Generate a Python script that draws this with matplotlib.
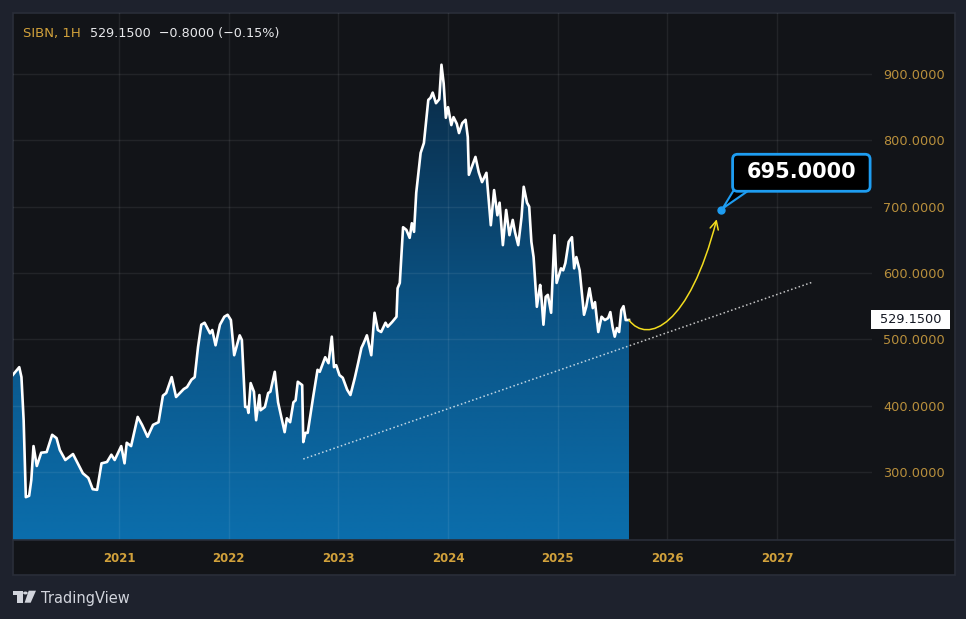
import numpy as np
import matplotlib
matplotlib.use("Agg")
import matplotlib.pyplot as plt
from matplotlib.patches import Polygon, Rectangle, Circle, FancyBboxPatch, FancyArrowPatch
from matplotlib.path import Path
from matplotlib.colors import LinearSegmentedColormap
from matplotlib.transforms import blended_transform_factory, IdentityTransform

# ---- data ----
dates = [2020.03, 2020.09, 2020.11, 2020.13, 2020.15, 2020.18, 2020.20, 2020.22, 2020.25, 2020.29,
         2020.34, 2020.39, 2020.43, 2020.46, 2020.51, 2020.58, 2020.67, 2020.72, 2020.76, 2020.80,
         2020.84, 2020.89, 2020.93, 2020.96, 2021.02, 2021.05, 2021.07, 2021.11, 2021.17, 2021.21,
         2021.26, 2021.31, 2021.36, 2021.40, 2021.43, 2021.48, 2021.52, 2021.59, 2021.62, 2021.66,
         2021.69, 2021.72, 2021.75, 2021.78, 2021.83, 2021.85, 2021.88, 2021.92, 2021.96, 2021.99,
         2022.02, 2022.05, 2022.10, 2022.12, 2022.15, 2022.17, 2022.18, 2022.20, 2022.23, 2022.25,
         2022.28, 2022.29, 2022.33, 2022.36, 2022.38, 2022.42, 2022.45, 2022.51, 2022.53, 2022.56,
         2022.59, 2022.61, 2022.63, 2022.67, 2022.68, 2022.70, 2022.72, 2022.77, 2022.81, 2022.83,
         2022.88, 2022.91, 2022.94, 2022.96, 2022.98, 2023.01, 2023.04, 2023.08, 2023.11, 2023.15,
         2023.18, 2023.21, 2023.23, 2023.26, 2023.29, 2023.30, 2023.33, 2023.36, 2023.39, 2023.43,
         2023.45, 2023.49, 2023.53, 2023.54, 2023.56, 2023.59, 2023.62, 2023.65, 2023.67, 2023.69,
         2023.71, 2023.75, 2023.78, 2023.82, 2023.84, 2023.86, 2023.89, 2023.92, 2023.94, 2023.96,
         2023.98, 2024.00, 2024.03, 2024.05, 2024.08, 2024.10, 2024.13, 2024.16, 2024.18, 2024.19,
         2024.25, 2024.28, 2024.31, 2024.35, 2024.39, 2024.42, 2024.45, 2024.47, 2024.50, 2024.53,
         2024.56, 2024.59, 2024.61, 2024.64, 2024.67, 2024.69, 2024.72, 2024.74, 2024.76, 2024.78,
         2024.81, 2024.84, 2024.85, 2024.87, 2024.89, 2024.91, 2024.94, 2024.97, 2024.99, 2025.03,
         2025.05, 2025.07, 2025.10, 2025.13, 2025.15, 2025.17, 2025.20, 2025.24, 2025.26, 2025.29,
         2025.32, 2025.34, 2025.37, 2025.40, 2025.43, 2025.46, 2025.48, 2025.50, 2025.52, 2025.54,
         2025.56, 2025.58, 2025.60, 2025.62, 2025.65]
prices = [446, 458, 443, 378, 262, 264, 288, 339, 309, 329,
          330, 356, 351, 333, 318, 327, 298, 291, 274, 273,
          313, 315, 326, 318, 339, 313, 344, 339, 383, 371,
          353, 371, 375, 415, 419, 443, 413, 425, 428, 439,
          443, 488, 522, 525, 509, 514, 491, 522, 534, 537,
          529, 476, 506, 499, 398, 398, 389, 434, 421, 378,
          416, 393, 398, 419, 421, 451, 405, 360, 381, 375,
          405, 408, 436, 431, 345, 359, 359, 413, 454, 451,
          473, 464, 504, 458, 461, 446, 442, 424, 416, 442,
          464, 487, 494, 506, 484, 476, 540, 514, 511, 525,
          519, 526, 534, 577, 585, 669, 665, 653, 675, 662,
          721, 781, 796, 861, 864, 872, 856, 862, 914, 886,
          834, 850, 823, 835, 825, 811, 826, 831, 805, 748,
          775, 752, 737, 751, 672, 725, 687, 706, 642, 695,
          657, 680, 662, 642, 684, 730, 706, 700, 647, 624,
          549, 582, 567, 522, 564, 567, 540, 657, 585, 607,
          604, 615, 647, 654, 607, 624, 604, 537, 549, 577,
          547, 556, 511, 534, 529, 532, 541, 519, 504, 517,
          511, 544, 550, 529, 529.15]

symbol = "SIBN, 1H"
last_text = "529.1500  \u22120.8000 (\u22120.15%)"
last_price = 529.15

trend_dates = [2022.68, 2027.32]
trend_prices = [319.5, 586.0]

# projected path (bezier control points) and target
proj_dates = [2025.65, 2025.82, 2026.20, 2026.45]
proj_prices = [529.0, 492.0, 520.0, 681.0]
target_date = 2026.49
target_price = 695.0

year_ticks = [2021, 2022, 2023, 2024, 2025, 2026, 2027]
price_ticks = [300, 400, 500, 600, 700, 800, 900]

# ---- style ----
W, H = 966, 619
outer_bg = "#1e222d"
panel_bg = "#121418"
border = "#2a2e39"
gold = "#d1a13b"
gold_dim = "#b88f3c"
blue = "#1e9df1"
yellow = "#f2dc1e"

fig = plt.figure(figsize=(W / 100, H / 100), dpi=100)
fig.patch.set_facecolor(outer_bg)

def fx(px):
    return px / W

def fy(py):
    return 1 - py / H

# chart panel
fig.add_artist(Rectangle((fx(13), fy(575)), fx(942), 562 / H, transform=fig.transFigure,
                         facecolor=panel_bg, edgecolor=border, lw=1.2, zorder=0))
fig.add_artist(plt.Line2D([fx(13), fx(955)], [fy(540), fy(540)], transform=fig.transFigure,
                          color=border, lw=1.2, zorder=1))

ax = fig.add_axes([fx(13), fy(540), fx(859), 527 / H])
ax.set_facecolor("none")
for s in ax.spines.values():
    s.set_visible(False)

ymin, ymax = 197.4, 992.0
xmin, xmax = 2020.033, 2027.866

# gradient area under the price line
d = np.array(dates)
p = np.array(prices)
verts = np.column_stack([np.r_[d[0], d, d[-1]], np.r_[ymin, p, ymin]])
clip = Polygon(verts, closed=True, transform=ax.transData, facecolor="none", edgecolor="none")
ax.add_patch(clip)
cmap = LinearSegmentedColormap.from_list("fill", ["#0b6eac", "#0b5283", "#0a2a45"])
grad = np.linspace(0, 1, 256).reshape(-1, 1)
im = ax.imshow(grad, extent=[d[0], d[-1], ymin, p.max()], origin="lower", cmap=cmap,
               aspect="auto", zorder=1, interpolation="bilinear")
im.set_clip_path(clip)

ax.plot(d, p, color="white", lw=1.9, zorder=4, solid_joinstyle="round")

# dotted trend line
ax.plot(trend_dates, trend_prices, color="white", alpha=0.75, lw=1.1, dashes=(1, 1.6), zorder=3)

# projection arrow
proj_path = Path(list(zip(proj_dates, proj_prices)),
                 [Path.MOVETO, Path.CURVE4, Path.CURVE4, Path.CURVE4])
arr = FancyArrowPatch(path=proj_path, arrowstyle="->,head_length=6,head_width=3",
                      color=yellow, lw=1.1, zorder=5)
ax.add_patch(arr)

ax.set_xlim(xmin, xmax)
ax.set_ylim(ymin, ymax)
ax.set_xticks(year_ticks)
ax.set_xticklabels([str(y) for y in year_ticks], color=gold, fontsize=8.5, fontweight="bold")
ax.set_yticks(price_ticks)
ax.set_yticklabels([f"{v:.4f}" for v in price_ticks], color=gold_dim, fontsize=9.3)
ax.yaxis.tick_right()
ax.tick_params(axis="y", length=0, pad=8)
ax.tick_params(axis="x", length=0, pad=9)
ax.set_axisbelow(False)
ax.grid(True, color="white", alpha=0.07, lw=1)

# target callout (box placed in pixels relative to the target point)
ax.plot(target_date, target_price, "o", color=blue, ms=5, zorder=8)
tx, ty = ax.transData.transform((target_date, target_price))
pix = IdentityTransform()
wedge = Polygon([(tx + 1.5, ty + 1.5), (tx + 12.5, ty + 19.5), (tx + 27.5, ty + 19.5)],
                closed=True, transform=pix, fc="black", ec=blue, lw=1.5, zorder=6)
fig.add_artist(wedge)
box = FancyBboxPatch((tx + 11.5, ty + 18.7), 137.5, 37, boxstyle="round,pad=0,rounding_size=5",
                     transform=pix, fc="black", ec=blue, lw=2, zorder=7)
fig.add_artist(box)
fig.text(tx + 80.5, ty + 37.5, f"{target_price:.4f}", transform=pix, color="white",
         fontsize=15, fontweight="bold", ha="center", va="center", zorder=8)

# last price label on the price scale
bt = blended_transform_factory(fig.transFigure, ax.transData)
ax.add_artist(Rectangle((fx(871), last_price - 14.3), fx(79), 28.6, transform=bt,
                        facecolor="white", edgecolor="none", clip_on=False, zorder=8))
ax.text(fx(880), last_price, f"{last_price:.4f}", transform=bt, color="#131722",
        fontsize=9.3, va="center", ha="left", clip_on=False, zorder=9)

# header legend
fig.text(fx(23), fy(33), symbol, color=gold, fontsize=9.5, va="center", ha="left")
fig.text(fx(90), fy(33), last_text, color="#e8e9ec", fontsize=9.2, va="center", ha="left")

# TradingView logo
logo_col = "#d1d4dc"
t_shape = [(12.7, 590.7), (22.7, 590.7), (22.7, 602.7), (17.3, 602.7), (17.3, 595.3), (12.7, 595.3)]
v_shape = [(28.7, 590.7), (36.0, 590.7), (30.7, 602.7), (24.6, 602.7)]
for shp in (t_shape, v_shape):
    fig.add_artist(Polygon([(fx(a), fy(b)) for a, b in shp], closed=True,
                           transform=fig.transFigure, fc=logo_col, ec="none"))
fig.add_artist(Circle((fx(25.4), fy(593.0)), 2.3 / W, transform=fig.transFigure, fc=logo_col, ec="none"))
fig.text(fx(41), fy(598), "TradingView", color=logo_col, fontsize=10.5, va="center", ha="left")

fig.savefig("out.png", dpi=100, facecolor=outer_bg)
